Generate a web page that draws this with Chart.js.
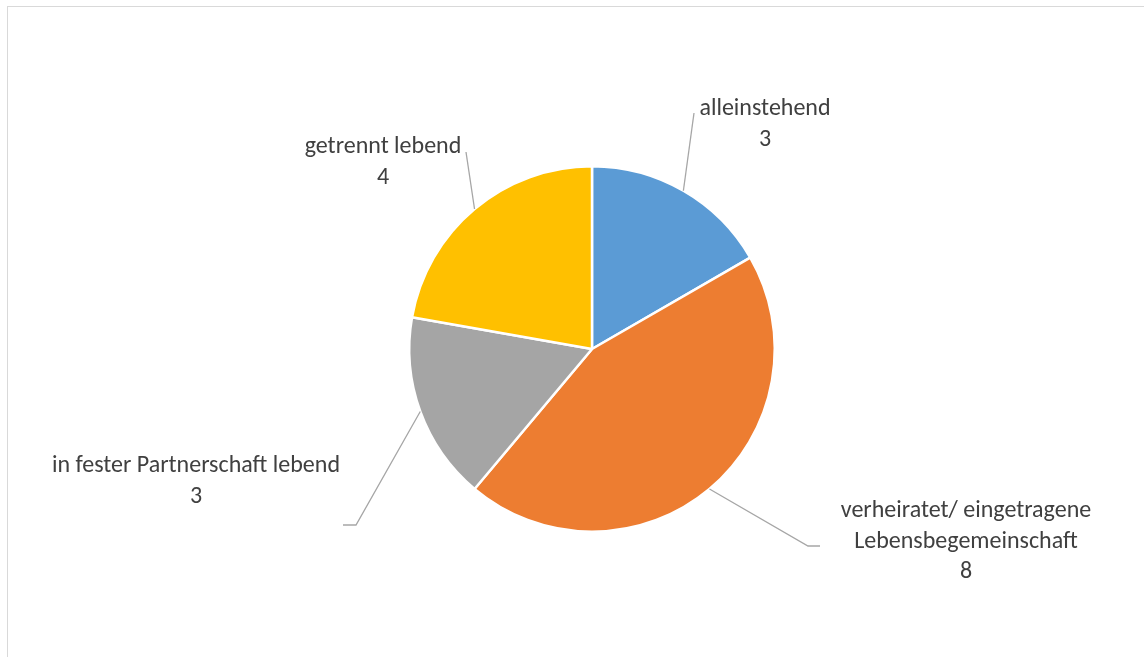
<!DOCTYPE html>
<html lang="de">
<head>
<meta charset="utf-8">
<title>Familienstand</title>
<script src="https://cdn.jsdelivr.net/npm/chart.js@4.4.1/dist/chart.umd.min.js"></script>
<style>
  html, body { margin: 0; padding: 0; background: #fff; overflow: hidden; }
  #wrap { position: relative; width: 1144px; height: 657px; }
  #frame {
    position: absolute; left: 7px; top: 6px; width: 1200px; height: 700px;
    border: 1px solid #d9d9d9; box-sizing: border-box;
  }
  #chart { position: absolute; left: 0; top: 0; }
</style>
</head>
<body>
<div id="wrap">
  <div id="frame"></div>
  <canvas id="chart" width="1144" height="657"></canvas>
</div>
<script>
// Familienstand der Befragten
const categories = [
  ["alleinstehend"],
  ["verheiratet/ eingetragene", "Lebensbegemeinschaft"],
  ["in fester Partnerschaft lebend"],
  ["getrennt lebend"]
];
const counts = [3, 8, 3, 4];
const sliceColors = ["#5B9BD5", "#ED7D31", "#A5A5A5", "#FFC000"];

// label placement relative to the pie centre; leader = end of the leader line,
// elbow = optional short horizontal tail
const labelLayout = [
  { dx: 173, dy: -240, leader: [102, -236] },
  { dx: 374, dy: 162, leader: [216, 197], elbow: 12 },
  { dx: -396, dy: 117, leader: [-236, 176], elbow: -13 },
  { dx: -209, dy: -202, leader: [-126, -197] }
];

const FONT = "24px Carlito, Lato, 'Open Sans', sans-serif";
const LINE_H = 30.5;

const dataLabels = {
  id: "dataLabels",
  afterDatasetsDraw(chart) {
    const { ctx } = chart;
    const meta = chart.getDatasetMeta(0);
    ctx.save();
    meta.data.forEach((arc, i) => {
      const { x, y, startAngle, endAngle, outerRadius } =
        arc.getProps(["x", "y", "startAngle", "endAngle", "outerRadius"], true);
      const mid = (startAngle + endAngle) / 2;
      const lay = labelLayout[i];
      const sx = x + Math.cos(mid) * outerRadius;
      const sy = y + Math.sin(mid) * outerRadius;
      const ex = x + lay.leader[0];
      const ey = y + lay.leader[1];

      ctx.strokeStyle = "#a6a6a6";
      ctx.lineWidth = 1.3;
      ctx.beginPath();
      ctx.moveTo(sx, sy);
      ctx.lineTo(ex, ey);
      if (lay.elbow) ctx.lineTo(ex + lay.elbow, ey);
      ctx.stroke();

      const lines = [...chart.data.labels[i], String(chart.data.datasets[0].data[i])];
      ctx.fillStyle = "#404040";
      ctx.font = FONT;
      ctx.textAlign = "center";
      ctx.textBaseline = "middle";
      lines.forEach((t, k) => {
        ctx.fillText(t, x + lay.dx, y + lay.dy + k * LINE_H);
      });
    });
    ctx.restore();
  }
};

new Chart(document.getElementById("chart"), {
  type: "pie",
  data: {
    labels: categories,
    datasets: [{
      data: counts,
      backgroundColor: sliceColors,
      borderColor: "#ffffff",
      borderWidth: 2.5
    }]
  },
  options: {
    responsive: false,
    animation: false,
    layout: { padding: { left: 408, right: 368, top: 165, bottom: 124 } },
    plugins: {
      legend: { display: false },
      tooltip: { enabled: false }
    }
  },
  plugins: [dataLabels]
});
</script>
</body>
</html>
